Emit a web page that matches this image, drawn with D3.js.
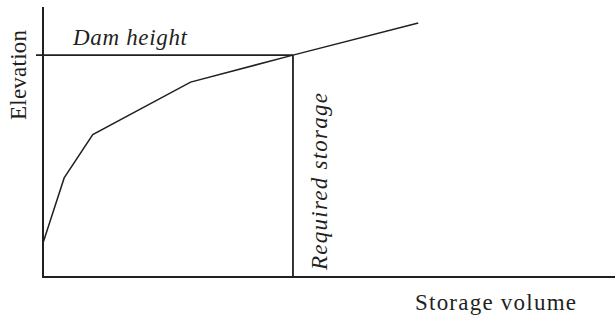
<!DOCTYPE html>
<html>
<head>
<meta charset="utf-8">
<script src="https://d3js.org/d3.v7.min.js"></script>
<style>
  body { margin: 0; background: #fff; }
</style>
</head>
<body>
<script>
// storage-elevation curve (arbitrary units, 0-10 on both axes)
const storage   = [0, 0.37, 0.87, 2.58, 4.37, 6.56];
const elevation = [1.27, 3.71, 5.33, 7.30, 8.31, 9.51];
const damHeight = 8.31;
const requiredStorage = 4.37;

const width = 616, height = 322;
const margin = { left: 43, top: 10, right: 1, bottom: 45 };
const ink = "#231f20";

const svg = d3.select("body").append("svg")
    .attr("width", width)
    .attr("height", height);

const x = d3.scaleLinear().domain([0, 10]).range([margin.left, width - margin.right]);
const y = d3.scaleLinear().domain([0, 10]).range([height - margin.bottom, margin.top]);

// axes: plain lines, no ticks
svg.append("line")
    .attr("x1", x(0)).attr("x2", x(0))
    .attr("y1", y(10) - 3).attr("y2", y(0) + 1)
    .attr("stroke", ink).attr("stroke-width", 2);
svg.append("line")
    .attr("x1", x(0) - 1).attr("x2", x(10))
    .attr("y1", y(0)).attr("y2", y(0))
    .attr("stroke", ink).attr("stroke-width", 2);

// dam height line (sticks out a bit left of the axis)
svg.append("line")
    .attr("x1", x(0) - 7).attr("x2", x(requiredStorage))
    .attr("y1", y(damHeight)).attr("y2", y(damHeight))
    .attr("stroke", ink).attr("stroke-width", 1.6);

// required storage line
svg.append("line")
    .attr("x1", x(requiredStorage)).attr("x2", x(requiredStorage))
    .attr("y1", y(damHeight)).attr("y2", y(0))
    .attr("stroke", ink).attr("stroke-width", 1.8);

// curve
const pts = storage.map((s, i) => [x(s), y(elevation[i])]);
svg.append("path")
    .attr("d", d3.line()(pts))
    .attr("fill", "none")
    .attr("stroke", ink)
    .attr("stroke-width", 1.5);

// labels
function label(txt, italic, len) {
    return svg.append("text")
        .attr("font-family", "Liberation Serif")
        .attr("font-size", 23)
        .attr("font-style", italic ? "italic" : "normal")
        .attr("fill", ink)
        .attr("textLength", len).attr("lengthAdjust", "spacing")
        .text(txt);
}

label("Dam height", true, 114).attr("x", 73).attr("y", 45);
label("Required storage", true, 177).attr("transform", "translate(327,270) rotate(-90)");
label("Elevation", false, 90).attr("transform", "translate(26,120) rotate(-90)");
label("Storage volume", false, 161).attr("x", 415).attr("y", 310);
</script>
</body>
</html>
